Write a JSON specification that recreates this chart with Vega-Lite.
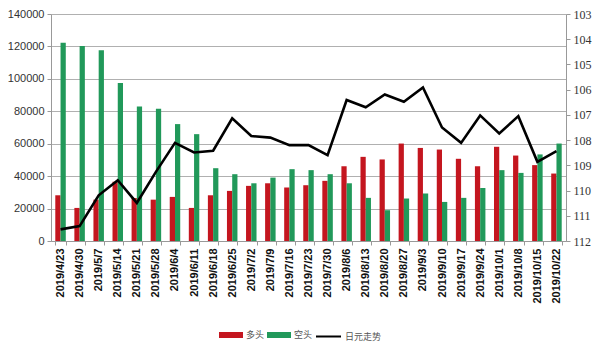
{
  "$schema": "https://vega.github.io/schema/vega-lite/v6.json",
  "autosize": "none",
  "width": 515,
  "height": 227,
  "padding": {"left": 51, "top": 14, "right": 34, "bottom": 110},
  "background": "white",
  "datasets": {
    "pos": [
      {"date": "2019/4/23", "type": "多头", "value": 28200}, {"date": "2019/4/23", "type": "空头", "value": 122300},
      {"date": "2019/4/30", "type": "多头", "value": 20400}, {"date": "2019/4/30", "type": "空头", "value": 120300},
      {"date": "2019/5/7", "type": "多头", "value": 25500}, {"date": "2019/5/7", "type": "空头", "value": 117700},
      {"date": "2019/5/14", "type": "多头", "value": 36500}, {"date": "2019/5/14", "type": "空头", "value": 97500},
      {"date": "2019/5/21", "type": "多头", "value": 26500}, {"date": "2019/5/21", "type": "空头", "value": 83000},
      {"date": "2019/5/28", "type": "多头", "value": 25500}, {"date": "2019/5/28", "type": "空头", "value": 81500},
      {"date": "2019/6/4", "type": "多头", "value": 27200}, {"date": "2019/6/4", "type": "空头", "value": 72100},
      {"date": "2019/6/11", "type": "多头", "value": 20400}, {"date": "2019/6/11", "type": "空头", "value": 65900},
      {"date": "2019/6/18", "type": "多头", "value": 28200}, {"date": "2019/6/18", "type": "空头", "value": 44900},
      {"date": "2019/6/25", "type": "多头", "value": 30900}, {"date": "2019/6/25", "type": "空头", "value": 41200},
      {"date": "2019/7/2", "type": "多头", "value": 34000}, {"date": "2019/7/2", "type": "空头", "value": 35600},
      {"date": "2019/7/9", "type": "多头", "value": 35600}, {"date": "2019/7/9", "type": "空头", "value": 39100},
      {"date": "2019/7/16", "type": "多头", "value": 33000}, {"date": "2019/7/16", "type": "空头", "value": 44300},
      {"date": "2019/7/23", "type": "多头", "value": 34400}, {"date": "2019/7/23", "type": "空头", "value": 43700},
      {"date": "2019/7/30", "type": "多头", "value": 37100}, {"date": "2019/7/30", "type": "空头", "value": 41200},
      {"date": "2019/8/6", "type": "多头", "value": 46100}, {"date": "2019/8/6", "type": "空头", "value": 35600},
      {"date": "2019/8/13", "type": "多头", "value": 51900}, {"date": "2019/8/13", "type": "空头", "value": 26600},
      {"date": "2019/8/20", "type": "多头", "value": 50300}, {"date": "2019/8/20", "type": "空头", "value": 19000},
      {"date": "2019/8/27", "type": "多头", "value": 60100}, {"date": "2019/8/27", "type": "空头", "value": 26200},
      {"date": "2019/9/3", "type": "多头", "value": 57400}, {"date": "2019/9/3", "type": "空头", "value": 29300},
      {"date": "2019/9/10", "type": "多头", "value": 56400}, {"date": "2019/9/10", "type": "空头", "value": 24100},
      {"date": "2019/9/17", "type": "多头", "value": 50700}, {"date": "2019/9/17", "type": "空头", "value": 26600},
      {"date": "2019/9/24", "type": "多头", "value": 46100}, {"date": "2019/9/24", "type": "空头", "value": 32700},
      {"date": "2019/10/1", "type": "多头", "value": 58100}, {"date": "2019/10/1", "type": "空头", "value": 43700},
      {"date": "2019/10/8", "type": "多头", "value": 52700}, {"date": "2019/10/8", "type": "空头", "value": 42000},
      {"date": "2019/10/15", "type": "多头", "value": 46800}, {"date": "2019/10/15", "type": "空头", "value": 53400},
      {"date": "2019/10/22", "type": "多头", "value": 41600}, {"date": "2019/10/22", "type": "空头", "value": 60100}
    ],
    "fx": [
      {"date": "2019/4/23", "series": "日元走势", "rate": 111.54},
      {"date": "2019/4/30", "series": "日元走势", "rate": 111.41},
      {"date": "2019/5/7", "series": "日元走势", "rate": 110.19},
      {"date": "2019/5/14", "series": "日元走势", "rate": 109.59},
      {"date": "2019/5/21", "series": "日元走势", "rate": 110.49},
      {"date": "2019/5/28", "series": "日元走势", "rate": 109.26},
      {"date": "2019/6/4", "series": "日元走势", "rate": 108.11},
      {"date": "2019/6/11", "series": "日元走势", "rate": 108.49},
      {"date": "2019/6/18", "series": "日元走势", "rate": 108.42},
      {"date": "2019/6/25", "series": "日元走势", "rate": 107.14},
      {"date": "2019/7/2", "series": "日元走势", "rate": 107.84},
      {"date": "2019/7/9", "series": "日元走势", "rate": 107.9},
      {"date": "2019/7/16", "series": "日元走势", "rate": 108.2},
      {"date": "2019/7/23", "series": "日元走势", "rate": 108.2},
      {"date": "2019/7/30", "series": "日元走势", "rate": 108.6},
      {"date": "2019/8/6", "series": "日元走势", "rate": 106.41},
      {"date": "2019/8/13", "series": "日元走势", "rate": 106.7},
      {"date": "2019/8/20", "series": "日元走势", "rate": 106.19},
      {"date": "2019/8/27", "series": "日元走势", "rate": 106.48},
      {"date": "2019/9/3", "series": "日元走势", "rate": 105.91},
      {"date": "2019/9/10", "series": "日元走势", "rate": 107.5},
      {"date": "2019/9/17", "series": "日元走势", "rate": 108.11},
      {"date": "2019/9/24", "series": "日元走势", "rate": 107.02},
      {"date": "2019/10/1", "series": "日元走势", "rate": 107.74},
      {"date": "2019/10/8", "series": "日元走势", "rate": 107.05},
      {"date": "2019/10/15", "series": "日元走势", "rate": 108.86},
      {"date": "2019/10/22", "series": "日元走势", "rate": 108.44}
    ]
  },
  "encoding": {
    "x": {
      "field": "date",
      "type": "ordinal",
      "sort": null,
      "scale": {"paddingInner": 0.45, "paddingOuter": 0.225},
      "axis": {
        "title": null,
        "labelAngle": -90,
        "labelFontSize": 11,
        "labelFontWeight": "bold",
        "labelFont": "Liberation Sans",
        "labelColor": "#111",
        "labelPadding": 3,
        "tickBand": "extent",
        "tickColor": "#999",
        "tickSize": 4,
        "domainColor": "#999"
      }
    }
  },
  "layer": [
    {
      "data": {"name": "pos"},
      "mark": {"type": "bar"},
      "encoding": {
        "xOffset": {"field": "type", "type": "nominal", "sort": ["多头", "空头"]},
        "y": {
          "field": "value",
          "type": "quantitative",
          "scale": {"domain": [0, 140000], "nice": false},
          "axis": {
            "title": null,
            "values": [0, 20000, 40000, 60000, 80000, 100000, 120000, 140000],
            "labelFont": "Liberation Sans",
            "labelFontSize": 11,
            "labelColor": "#333",
            "format": "d",
            "grid": true,
            "gridColor": "#b0b0b0",
            "gridWidth": 1.2,
            "tickColor": "#999",
            "tickSize": 4,
            "domainColor": "#999",
            "labelPadding": 3
          }
        },
        "fill": {
          "field": "type",
          "type": "nominal",
          "scale": {"domain": ["多头", "空头"], "range": ["#c4161f", "#21995a"]},
          "legend": {
            "title": null,
            "orient": "none",
            "direction": "horizontal",
            "legendX": 168,
            "legendY": 309,
            "symbolType": "M-1,-0.25H1V0.25H-1Z",
            "symbolSize": 576,
            "symbolStrokeWidth": 0,
            "labelFont": "Noto Sans CJK SC",
            "labelFontSize": 9,
            "labelColor": "#555",
            "labelOffset": 3,
            "columnPadding": 2
          }
        }
      }
    },
    {
      "data": {"name": "fx"},
      "mark": {"type": "line", "strokeWidth": 2.6, "color": "black"},
      "encoding": {
        "y": {
          "field": "rate",
          "type": "quantitative",
          "scale": {"domain": [103, 112], "reverse": true, "nice": false, "zero": false},
          "axis": {
            "title": null,
            "orient": "right",
            "values": [103, 104, 105, 106, 107, 108, 109, 110, 111, 112],
            "grid": false,
            "labelFont": "Liberation Serif",
            "labelFontSize": 12,
            "labelColor": "#333",
            "tickColor": "#999",
            "tickSize": 4,
            "domainColor": "#999",
            "labelPadding": 3
          }
        },
        "stroke": {
          "field": "series",
          "type": "nominal",
          "scale": {"domain": ["日元走势"], "range": ["black"]},
          "legend": {
            "title": null,
            "orient": "none",
            "direction": "horizontal",
            "legendX": 264,
            "legendY": 309,
            "symbolType": "stroke",
            "symbolSize": 625,
            "symbolStrokeWidth": 2,
            "labelFont": "Noto Sans CJK SC",
            "labelFontSize": 9,
            "labelColor": "#555",
            "labelOffset": 3
          }
        }
      }
    }
  ],
  "resolve": {"scale": {"y": "independent"}},
  "config": {"view": {"stroke": null}}
}
